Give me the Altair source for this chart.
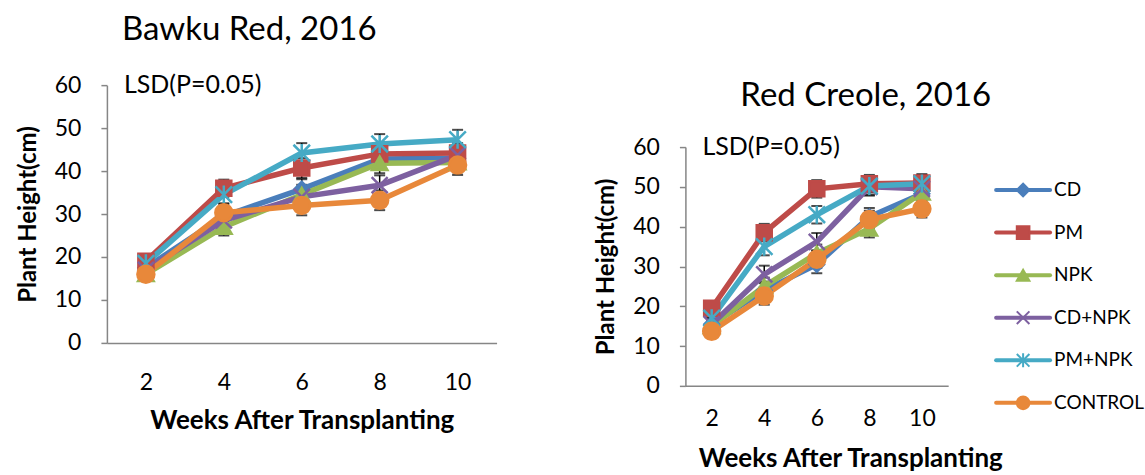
import altair as alt
import pandas as pd

weeks = [2, 4, 6, 8, 10]
series = ["CD", "PM", "NPK", "CD+NPK", "PM+NPK", "CONTROL"]
colors = ["#4A7EBB", "#BE4B48", "#98B954", "#7D60A0", "#46AAC5", "#E8883A"]
X_PATH = "M-1,-1L1,1M-1,1L1,-1"
STAR_PATH = "M-1,-1L1,1M-1,1L1,-1M0,-1.1L0,1.1"
shapes = ["diamond", "square", "triangle-up", X_PATH, STAR_PATH, "circle"]
sizes = [210, 289, 270, 210, 240, 361]
y_ticks = [0, 10, 20, 30, 40, 50, 60]

# Bawku Red, 2016
bawku = {
    "CD":      [17.5, 29.5, 35.8, 42.8, 43.0],
    "PM":      [19.0, 36.0, 40.7, 44.0, 44.2],
    "NPK":     [16.0, 27.0, 34.5, 41.8, 42.0],
    "CD+NPK":  [17.0, 28.5, 34.0, 36.7, 43.7],
    "PM+NPK":  [18.5, 34.5, 44.2, 46.3, 47.3],
    "CONTROL": [16.0, 30.3, 32.0, 33.2, 41.4],
}
bawku_lsd = [1.5, 2.0, 2.3, 2.3, 2.3]

# Red Creole, 2016
creole = {
    "CD":      [15.5, 24.0, 30.5, 42.5, 48.3],
    "PM":      [19.5, 38.5, 49.5, 50.8, 51.0],
    "NPK":     [15.0, 25.0, 33.3, 39.5, 48.5],
    "CD+NPK":  [15.5, 28.0, 36.2, 50.0, 49.5],
    "PM+NPK":  [17.0, 35.0, 43.0, 50.2, 50.8],
    "CONTROL": [13.7, 22.6, 31.8, 41.8, 44.5],
}
creole_lsd = [1.5, 2.2, 2.2, 2.2, 2.2]

FONT = "Lato"
AXIS_GRAY = "#868686"


def to_df(d, lsd):
    rows = []
    for s in series:
        for w, v, e in zip(weeks, d[s], lsd):
            rows.append({"week": w, "series": s, "value": v, "lo": v - e, "hi": v + e})
    return pd.DataFrame(rows)


color_scale = alt.Scale(domain=series, range=colors)
shape_scale = alt.Scale(domain=series, range=shapes)
size_scale = alt.Scale(domain=series, range=sizes)


def panel(d, lsd, title, w, h, title_dx, title_offset, x_label_pad, x_title_pad, title_x=None, legend=False):
    df = to_df(d, lsd)
    xax = dict(title="Weeks After Transplanting", labelAngle=0, ticks=False,
               domainColor=AXIS_GRAY, domainWidth=1.5, labelPadding=x_label_pad,
               titlePadding=x_title_pad, labelFontSize=23, titleFontSize=26,
               titleFontWeight="bold", labelFont=FONT, titleFont=FONT,
               labelColor="black", titleColor="black")
    if title_x is not None:
        xax["titleX"] = title_x
    x = alt.X("week:O", scale=alt.Scale(type="point", padding=0.5), axis=alt.Axis(**xax))
    yaxis = alt.Axis(title="Plant Height(cm)", values=y_ticks,
                     grid=False, domainColor=AXIS_GRAY, domainWidth=1.5,
                     tickColor=AXIS_GRAY, tickSize=6, tickWidth=1.5,
                     labelPadding=20, labelFontSize=23, titleFontSize=24,
                     labelOverlap=False,
                     titleFontWeight="bold", labelFont=FONT, titleFont=FONT,
                     labelColor="black", titleColor="black", titlePadding=14)
    yscale = alt.Scale(domain=[0, 60], nice=False)
    y = alt.Y("value:Q", scale=yscale, axis=yaxis)
    base = alt.Chart(df)
    err = base.mark_rule(color="black", strokeWidth=1.5).encode(
        x=x, y=alt.Y("lo:Q", scale=yscale, axis=yaxis), y2="hi:Q")
    cap_hi = base.mark_tick(color="black", thickness=2, size=11).encode(
        x=x, y=alt.Y("hi:Q", scale=yscale, axis=yaxis))
    cap_lo = base.mark_tick(color="black", thickness=2, size=11).encode(
        x=x, y=alt.Y("lo:Q", scale=yscale, axis=yaxis))
    line = base.mark_line(strokeWidth=5.5).encode(
        x=x, y=y, color=alt.Color("series:N", scale=color_scale, legend=None),
        detail="series:N", order=alt.Order("week:Q"))
    pts = base.mark_point(filled=True, opacity=1, strokeWidth=2.5).encode(
        x=x, y=y,
        fill=alt.Fill("series:N", scale=color_scale, legend=None),
        stroke=alt.Stroke("series:N", scale=color_scale, legend=None),
        shape=alt.Shape("series:N", scale=shape_scale, legend=None),
        size=alt.Size("series:N", scale=size_scale, legend=None))
    lsd_txt = alt.Chart(pd.DataFrame({"t": ["LSD(P=0.05)"]})).mark_text(
        align="left", baseline="middle", fontSize=25, font=FONT, color="black").encode(
        text="t:N", x=alt.value(17), y=alt.datum(60, scale=yscale, axis=yaxis))
    layers = [err, cap_hi, cap_lo, line, pts, lsd_txt]
    ch = alt.layer(*layers)
    if legend:
        ldf = pd.DataFrame({"series": series})
        ly = alt.Y("series:N", scale=alt.Scale(type="point", domain=series, range=[43, 256], padding=0), axis=None)
        lbase = alt.Chart(ldf)
        lline = lbase.mark_rule(strokeWidth=4, strokeCap="round").encode(
            x=alt.value(311), x2=alt.value(365), y=ly,
            color=alt.Color("series:N", scale=color_scale, legend=None))
        lpts = lbase.mark_point(filled=True, opacity=1, strokeWidth=2).encode(
            x=alt.value(338), y=ly,
            fill=alt.Fill("series:N", scale=color_scale, legend=None),
            stroke=alt.Stroke("series:N", scale=color_scale, legend=None),
            shape=alt.Shape("series:N", scale=shape_scale, legend=None),
            size=alt.value(160))
        ltxt = lbase.mark_text(align="left", baseline="middle", fontSize=19, font=FONT, color="black").encode(
            x=alt.value(369), y=ly, text="series:N")
        leg = alt.layer(lline, lpts, ltxt)
        ch = alt.layer(ch, leg).resolve_scale(y="independent")
    return ch.properties(
        width=w, height=h,
        title=alt.TitleParams(title, anchor="start", frame="group", dx=title_dx, offset=title_offset,
                              fontSize=33, font=FONT, fontWeight="normal", color="black"))


left = panel(bawku, bawku_lsd, "Bawku Red, 2016", 390, 258, 15, 26, 29, 13)
right = panel(creole, creole_lsd, "Red Creole, 2016", 263, 239, 55, 22, 22, 15, title_x=165, legend=True)

spacer = alt.Chart(pd.DataFrame({"v": [0]})).mark_point(opacity=0).encode(
    x=alt.value(0), y=alt.value(0)).properties(width=5, height=62)

right_col = alt.vconcat(spacer, right, spacing=0, bounds="flush")

chart = alt.hconcat(left, right_col, spacing=98).properties(
    padding={"left": 16, "top": 14, "right": 0, "bottom": 0}
).configure(font=FONT).configure_view(stroke="transparent", strokeWidth=0)

chart.save("out.html", embed_options={"renderer": "svg", "actions": False})
